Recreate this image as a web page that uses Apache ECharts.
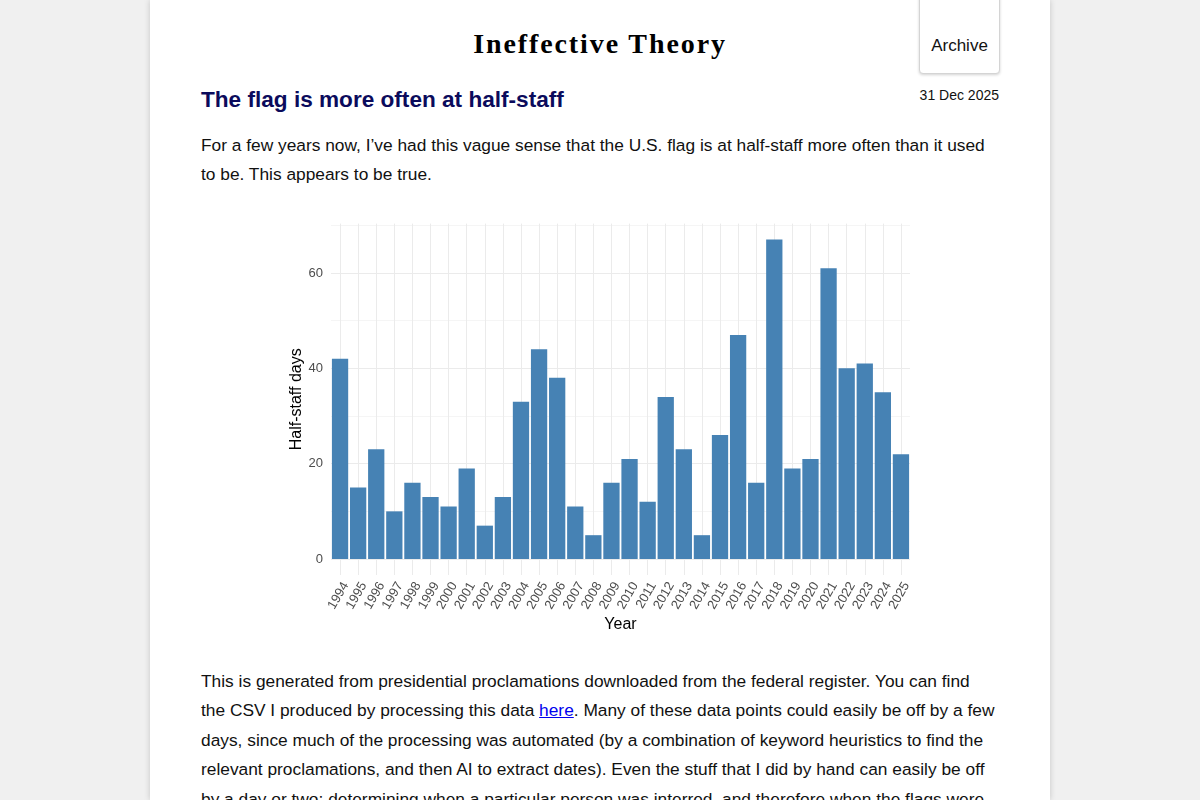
<!DOCTYPE html>
<html>
<head>
<meta charset="utf-8">
<script src="https://cdn.jsdelivr.net/npm/echarts@6/dist/echarts.min.js"></script>
<style>
html,body{margin:0;padding:0;width:1200px;height:800px;overflow:hidden;background:#f0f0f0;font-family:"Liberation Sans",Arial,sans-serif;color:#111;}
#page{position:absolute;left:150px;top:0;width:900px;height:800px;background:#fff;box-shadow:0 0 6px rgba(0,0,0,0.18);overflow:hidden;}
#site{position:absolute;left:0;top:25px;width:900px;text-align:center;font-family:"Liberation Serif","Times New Roman",serif;font-weight:bold;font-size:28px;letter-spacing:1.9px;color:#000;line-height:38px;}
#archive{position:absolute;left:769px;top:-10px;width:81px;height:84px;border:1px solid #d4d4d4;border-radius:4px;box-shadow:0 1px 3px rgba(0,0,0,0.18);background:#fff;font-size:17px;line-height:20px;text-align:center;box-sizing:border-box;padding-top:45px;color:#111;}
#title{position:absolute;left:51px;top:85px;font-size:22.6px;font-weight:bold;color:#0b0b5c;line-height:30px;margin:0;}
#date{position:absolute;right:51px;top:87px;font-size:14px;line-height:16px;color:#111;}
.p{position:absolute;left:51px;width:796px;font-size:17.33px;line-height:29.4px;margin:0;}
#p1{top:131px;}
#p2{top:667px;}
a{color:#0000ee;}
#chart{position:absolute;left:51px;top:210px;width:798px;height:430px;}
</style>
</head>
<body>
<div id="page">
  <div id="site">Ineffective Theory</div>
  <div id="archive">Archive</div>
  <h2 id="title">The flag is more often at half-staff</h2>
  <div id="date">31 Dec 2025</div>
  <p class="p" id="p1">For a few years now, I’ve had this vague sense that the U.S. flag is at half-staff more often than it used to be. This appears to be true.</p>
  <div id="chart"></div>
  <p class="p" id="p2">This is generated from presidential proclamations downloaded from the federal register. You can find the CSV I produced by processing this data <a href="#">here</a>. Many of these data points could easily be off by a few days, since much of the processing was automated (by a combination of keyword heuristics to find the relevant proclamations, and then AI to extract dates). Even the stuff that I did by hand can easily be off by a day or two; determining when a particular person was interred, and therefore when the flags were to be returned to full-staff, is not always straightforward.</p>
</div>
<script>
const years = ['1994','1995','1996','1997','1998','1999','2000','2001','2002','2003','2004','2005','2006','2007','2008','2009','2010','2011','2012','2013','2014','2015','2016','2017','2018','2019','2020','2021','2022','2023','2024','2025'];
const halfStaffDays = [42,15,23,10,16,13,11,19,7,13,33,44,38,11,5,16,21,12,34,23,5,26,47,16,67,19,21,61,40,41,35,22];
const yLabelTicks = [0,20,40,60];
const yGridTicks = [0,10,20,30,40,50,60,70];

const maxV = Math.max.apply(null, halfStaffDays);
const pad = maxV * 0.05;

const chart = echarts.init(document.getElementById('chart'), null, {renderer:'canvas'});
chart.setOption({
  animation:false,
  backgroundColor:'#fff',
  grid:{left:130, top:13.6, width:579, height:351.4, containLabel:false},
  xAxis:{
    type:'category',
    data:years,
    name:'Year',
    nameLocation:'middle',
    nameGap:42,
    nameMoveOverlap:false,
    nameTextStyle:{color:'#000', fontSize:16, fontFamily:'Liberation Sans'},
    axisLine:{show:false},
    axisTick:{show:false},
    axisLabel:{rotate:60, interval:0, color:'#4d4d4d', fontSize:13, margin:5, verticalAlign:'top', fontFamily:'Liberation Sans'},
    splitLine:{show:true, alignWithLabel:true, interval:0, lineStyle:{color:'#ebebeb', width:1}}
  },
  yAxis:{
    type:'value',
    min:-pad,
    max:maxV+pad,
    name:'Half-staff days',
    nameLocation:'middle',
    nameRotate:90,
    nameGap:26,
    nameMoveOverlap:false,
    nameTextStyle:{color:'#000', fontSize:16, fontFamily:'Liberation Sans'},
    axisLine:{show:false},
    axisTick:{show:false, customValues:yGridTicks},
    axisLabel:{customValues:yLabelTicks, color:'#4d4d4d', fontSize:13, margin:8, fontFamily:'Liberation Sans'},
    splitLine:{show:true, lineStyle:{color:['#ebebeb','#f5f5f5'], width:1}}
  },
  series:[{
    type:'bar',
    data:halfStaffDays,
    barCategoryGap:'10%',
    itemStyle:{color:'#4682b4'},
    silent:true
  }]
});
</script>
</body>
</html>
